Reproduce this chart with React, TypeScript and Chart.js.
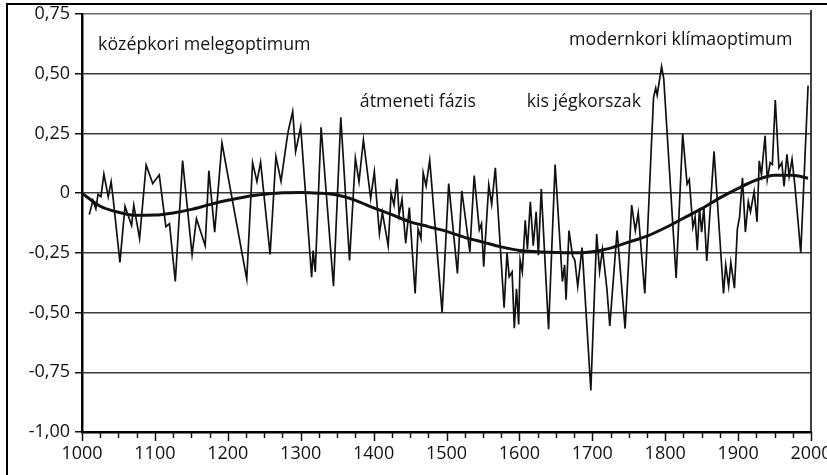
import React, { useEffect, useRef } from 'react';
import { Chart, registerables } from 'chart.js';

Chart.register(...registerables);

// Reconstructed temperature anomaly series (years, values)
const rawYears = [
  1010, 1015, 1019, 1022, 1026, 1030, 1036, 1040, 1043, 1052, 1059, 1068, 1071, 1079, 1088, 1097,
  1106, 1115, 1120, 1128, 1138, 1151, 1157, 1169, 1174, 1182, 1192, 1226, 1234, 1240, 1245, 1258,
  1266, 1273, 1281, 1283, 1289, 1293, 1300, 1315, 1317, 1320, 1328, 1345, 1355, 1367, 1375, 1380,
  1386, 1396, 1401, 1408, 1412, 1420, 1424, 1428, 1432, 1435, 1439, 1444, 1449, 1457, 1461, 1465,
  1468, 1472, 1477, 1494, 1503, 1515, 1521, 1532, 1538, 1545, 1548, 1551, 1558, 1562, 1567, 1579,
  1583, 1586, 1590, 1593, 1596, 1599, 1601, 1604, 1608, 1611, 1615, 1619, 1623, 1626, 1630, 1640,
  1649, 1659, 1662, 1664, 1668, 1673, 1676, 1680, 1686, 1698, 1706, 1710, 1714, 1720, 1724, 1734,
  1745, 1754, 1759, 1763, 1772, 1784, 1787, 1789, 1795, 1798, 1815, 1824, 1830, 1833, 1838, 1841,
  1844, 1847, 1850, 1853, 1857, 1867, 1880, 1883, 1887, 1890, 1895, 1899, 1902, 1906, 1910, 1914,
  1917, 1922, 1926, 1929, 1932, 1937, 1940, 1944, 1947, 1951, 1953, 1956, 1960, 1963, 1967, 1970,
  1974, 1978, 1986, 1996,
];
const rawValues = [
  -0.09, -0.03, -0.065, -0.005, -0.015, 0.08, -0.015, 0.048, -0.03, -0.29, -0.055, -0.135, -0.05, -0.19, 0.118, 0.04,
  0.076, -0.14, -0.128, -0.37, 0.136, -0.257, -0.107, -0.22, 0.094, -0.163, 0.21, -0.36, 0.128, 0.048, 0.13, -0.257,
  0.153, 0.05, 0.223, 0.262, 0.342, 0.174, 0.276, -0.352, -0.24, -0.33, 0.276, -0.39, 0.318, -0.282, 0.146, 0.048,
  0.223, -0.022, 0.09, -0.17, -0.08, -0.22, 0.0, -0.05, 0.06, -0.09, -0.026, -0.21, -0.06, -0.42, -0.15, -0.19,
  0.085, 0.03, 0.138, -0.5, 0.04, -0.336, 0.01, -0.246, 0.074, -0.154, -0.128, -0.308, 0.034, -0.047, 0.106, -0.48,
  -0.25, -0.35, -0.33, -0.565, -0.4, -0.55, -0.28, -0.33, -0.114, -0.235, -0.036, -0.22, -0.078, -0.26, 0.017, -0.57,
  0.12, -0.37, -0.3, -0.446, -0.157, -0.264, -0.28, -0.39, -0.228, -0.826, -0.171, -0.328, -0.235, -0.4, -0.556, -0.157,
  -0.567, -0.05, -0.157, -0.083, -0.42, 0.4, 0.44, 0.41, 0.53, 0.48, -0.355, 0.248, 0.038, 0.057, -0.142, -0.1,
  -0.24, -0.064, -0.163, -0.057, -0.284, 0.175, -0.42, -0.3, -0.39, -0.29, -0.398, -0.15, -0.1, 0.064, -0.163, -0.036,
  -0.078, 0.007, -0.12, 0.135, 0.078, 0.24, 0.057, 0.128, 0.12, 0.39, 0.277, 0.106, 0.128, 0.028, 0.163, 0.07,
  0.142, 0.028, -0.25, 0.45,
];

// Smoothed trend curve
const trendYears = [
  1000, 1025, 1050, 1075, 1100, 1125, 1150, 1175, 1200, 1225, 1250, 1275, 1300, 1325, 1350, 1375,
  1400, 1425, 1450, 1475, 1500, 1525, 1550, 1575, 1600, 1625, 1650, 1675, 1700, 1725, 1750, 1775,
  1800, 1825, 1850, 1875, 1900, 1925, 1950, 1975, 1996,
];
const trendValues = [
  0.0, -0.055, -0.08, -0.093, -0.092, -0.083, -0.068, -0.048, -0.03, -0.015, -0.005, 0.002, 0.003, 0.0, -0.008, -0.03,
  -0.062, -0.09, -0.12, -0.14, -0.16, -0.185, -0.205, -0.225, -0.24, -0.245, -0.248, -0.25, -0.245, -0.23, -0.205, -0.18,
  -0.145, -0.105, -0.065, -0.02, 0.02, 0.055, 0.075, 0.075, 0.062,
];

const yTickValues = [0.75, 0.5, 0.25, 0, -0.25, -0.5, -0.75, -1];
const xMin = 1000;
const xMax = 2000;
const xMinorStep = 25;
const xMajorStep = 100;

const noteLabels = ['középkori melegoptimum', 'átmeneti fázis', 'kis jégkorszak', 'modernkori klímaoptimum'];
const noteYears = [1022, 1381, 1610, 1668];
const noteValues = [0.601, 0.359, 0.359, 0.62];

const FONT = '"Open Sans", "DejaVu Sans", sans-serif';

const fmtY = (v: number) => (v === 0 ? '0' : v.toFixed(2).replace('.', ','));

const decorPlugin = {
  id: 'decor',
  afterDraw(chart: any) {
    const { ctx, chartArea, scales } = chart;
    const x = scales.x;
    const y = scales.y;
    ctx.save();
    // x tick marks (major / minor)
    ctx.strokeStyle = '#111';
    ctx.lineWidth = 1.5;
    x.ticks.forEach((t: any) => {
      const px = Math.round(x.getPixelForValue(t.value)) + 0.5;
      const major = t.value % xMajorStep === 0;
      ctx.beginPath();
      ctx.moveTo(px, chartArea.bottom);
      ctx.lineTo(px, chartArea.bottom + (major ? 9 : 6));
      ctx.stroke();
    });
    // right frame line at the end of the x range
    const rx = x.getPixelForValue(xMax);
    ctx.lineWidth = 1.6;
    ctx.beginPath();
    ctx.moveTo(rx, chartArea.top - 4);
    ctx.lineTo(rx, chartArea.bottom);
    ctx.stroke();
    // annotations
    ctx.fillStyle = '#151515';
    ctx.font = `17.8px ${FONT}`;
    ctx.textAlign = 'left';
    ctx.textBaseline = 'alphabetic';
    noteLabels.forEach((label, i) => {
      ctx.fillText(label, x.getPixelForValue(noteYears[i]), y.getPixelForValue(noteValues[i]));
    });
    ctx.restore();
  },
};

export default function App() {
  const canvasRef = useRef<HTMLCanvasElement | null>(null);

  useEffect(() => {
    const canvas = canvasRef.current;
    if (!canvas) return;
    const chart = new Chart(canvas, {
      type: 'line',
      data: {
        datasets: [
          {
            label: 'raw',
            data: rawYears.map((yr, i) => ({ x: yr, y: rawValues[i] })),
            borderColor: '#111',
            borderWidth: 1.7,
            pointRadius: 0,
            tension: 0,
            fill: false,
          },
          {
            label: 'trend',
            data: trendYears.map((yr, i) => ({ x: yr, y: trendValues[i] })),
            borderColor: '#111',
            borderWidth: 3,
            pointRadius: 0,
            cubicInterpolationMode: 'monotone',
            fill: false,
          },
        ],
      },
      options: {
        animation: false,
        responsive: false,
        devicePixelRatio: 1,
        layout: { padding: { left: 10, top: 14, right: 16, bottom: 11 } },
        plugins: { legend: { display: false }, tooltip: { enabled: false } },
        scales: {
          x: {
            type: 'linear',
            min: xMin,
            max: xMax,
            ticks: {
              stepSize: xMinorStep,
              autoSkip: false,
              maxRotation: 0,
              padding: 11,
              color: '#111',
              font: { family: FONT, size: 18 },
              callback: (v: any) => (Number(v) % xMajorStep === 0 ? String(v) : ''),
            },
            grid: { display: true, drawOnChartArea: false, drawTicks: false },
            border: { display: true, color: '#000', width: 2.5 },
            afterFit: (s: any) => {
              s.height = 32;
              s.paddingLeft = 0;
              s.paddingRight = 0;
            },
          },
          y: {
            type: 'linear',
            min: -1,
            max: 0.75,
            afterBuildTicks: (s: any) => {
              s.ticks = yTickValues.map((v) => ({ value: v }));
            },
            ticks: {
              padding: 5,
              color: '#111',
              font: { family: FONT, size: 18 },
              callback: (v: any) => fmtY(Number(v)),
            },
            grid: {
              color: (c: any) => (c.tick && c.tick.value === 0.75 ? '#6a6a6a' : '#3a3a3a'),
              lineWidth: 1.5,
              tickLength: 7,
              tickColor: '#111',
              tickWidth: 1.5,
            },
            border: { display: true, color: '#000', width: 2.5 },
            afterFit: (s: any) => {
              s.width = 72;
              s.paddingTop = 0;
              s.paddingBottom = 0;
            },
          },
        },
      } as any,
      plugins: [decorPlugin],
    });
    return () => chart.destroy();
  }, []);

  return (
    <div
      style={{
        position: 'fixed',
        left: 0,
        top: 0,
        width: 827,
        height: 475,
        background: '#fff',
        overflow: 'hidden',
      }}
    >
      <canvas ref={canvasRef} width={827} height={475} style={{ display: 'block', width: 827, height: 475 }} />
      <div
        style={{
          position: 'absolute',
          left: 6,
          top: 3,
          width: 900,
          height: 600,
          borderTop: '2px solid #000',
          borderLeft: '2px solid #000',
          pointerEvents: 'none',
        }}
      />
    </div>
  );
}
